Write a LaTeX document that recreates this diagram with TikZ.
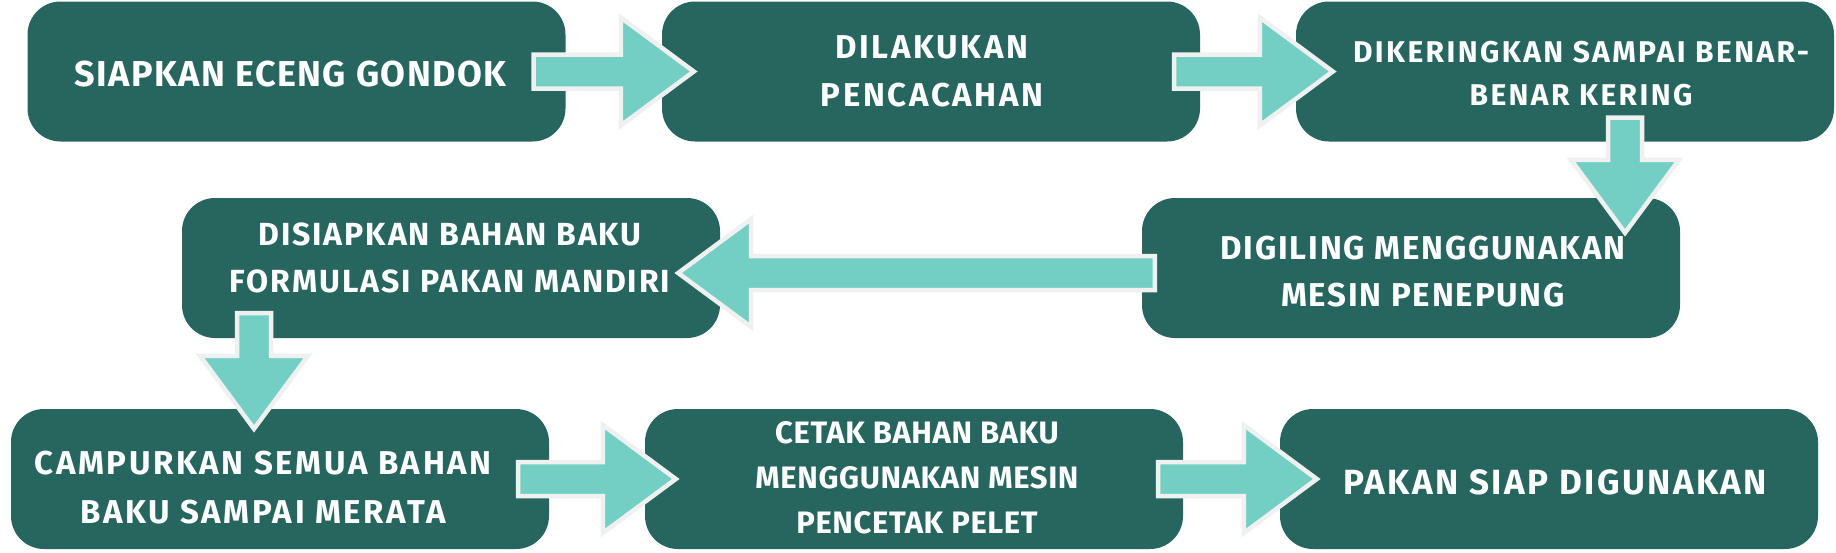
\documentclass[tikz,border=0pt]{standalone}
\usepackage{fontspec}
\setmainfont{Fira Sans}[LetterSpace=8]
\usetikzlibrary{calc}
\definecolor{boxc}{HTML}{27665F}
\definecolor{arrc}{HTML}{73CFC4}
\definecolor{arrb}{HTML}{EEF1EF}
\tikzset{
  box/.style={fill=boxc, rounded corners=33pt, minimum width=538pt, minimum height=140pt, inner sep=0pt},
  lbl/.style={text=white, align=center, inner sep=0pt},
  blk/.style={fill=arrc, draw=arrb, line width=4.5pt, line join=miter},
}
\newcommand\blockarrow[2]{%
  \coordinate (ba-c) at ($(#2)!73pt!(#1)$);
  \draw[blk] ($(#1)!17pt!90:(#2)$) -- ($(ba-c)!17pt!-90:(#1)$) -- ($(ba-c)!54pt!-90:(#1)$) -- (#2)
    -- ($(ba-c)!54pt!90:(#1)$) -- ($(ba-c)!17pt!90:(#1)$) -- ($(#1)!17pt!-90:(#2)$) -- cycle;}
\begin{document}
\begin{tikzpicture}[x=1pt, y=-1pt]
\useasboundingbox (0,0) rectangle (1836,552);
% boxes
\node[box] (b1) at (296.5,71.5) {};
\node[box] (b2) at (931,71.5) {};
\node[box] (b3) at (1565,71.5) {};
\node[box] (b4) at (451,268) {};
\node[box] (b5) at (1411,268) {};
\node[box] (b6) at (280,479) {};
\node[box] (b7) at (914,479) {};
\node[box] (b8) at (1549,479) {};
% labels
\node[lbl, font=\fontsize{36}{45}\selectfont\bfseries\addfontfeature{LetterSpace=4}] (t1) at ($(b1.center)+(-6,2.5)$) {SIAPKAN ECENG GONDOK};
\node[lbl, font=\fontsize{33}{48}\selectfont\bfseries] (t2) at ($(b2.center)+(1,0)$) {DILAKUKAN\\PENCACAHAN};
\node[lbl, font=\fontsize{30}{43}\selectfont\bfseries] (t3) at ($(b3.center)+(16,2)$) {DIKERINGKAN SAMPAI BENAR-\\BENAR KERING};
\node[lbl, font=\fontsize{32}{47}\selectfont\bfseries\addfontfeature{LetterSpace=6}] (t4) at ($(b4.center)+(-1,-10.5)$) {DISIAPKAN BAHAN BAKU\\FORMULASI PAKAN MANDIRI};
\node[lbl, font=\fontsize{33}{47}\selectfont\bfseries\addfontfeature{LetterSpace=5.5}] (t5) at ($(b5.center)+(12,3.5)$) {DIGILING MENGGUNAKAN\\MESIN PENEPUNG};
\node[lbl, font=\fontsize{33}{49}\selectfont\bfseries] (t6) at ($(b6.center)+(-17,8.5)$) {CAMPURKAN SEMUA BAHAN\\BAKU SAMPAI MERATA};
\node[lbl, font=\fontsize{31}{45}\selectfont\bfseries\addfontfeature{LetterSpace=2}] (t7) at ($(b7.center)+(3,-1)$) {CETAK BAHAN BAKU\\MENGGUNAKAN MESIN\\PENCETAK PELET};
\node[lbl, font=\fontsize{35}{45}\selectfont\bfseries\addfontfeature{LetterSpace=7}] (t8) at ($(b8.center)+(6,3)$) {PAKAN SIAP DIGUNAKAN};
% arrow end points
\coordinate (a1s) at ($(b1.east)+(-32,0)$);
\coordinate (a1e) at ($(b2.west)+(32,0)$);
\coordinate (a2s) at ($(b2.east)+(-26,0)$);
\coordinate (a2e) at ($(b3.west)+(37,0)$);
\coordinate (a3s) at ($(b3.south)+(60,-24)$);
\coordinate (a3e) at ($(a3s |- b5.north)+(0,35)$);
\coordinate (a4s) at ($(b5.west)+(13,5)$);
\coordinate (a4e) at ($(b4.east |- a4s)+(-42,0)$);
\coordinate (a5s) at ($(b4.south)+(-197,-25)$);
\coordinate (a5e) at ($(a5s |- b6.north)+(0,20)$);
\coordinate (a6s) at ($(b6.east)+(-31,0)$);
\coordinate (a6e) at ($(b7.west)+(31,0)$);
\coordinate (a7s) at ($(b7.east)+(-25,0)$);
\coordinate (a7e) at ($(b8.west)+(37,0)$);
% arrows
\blockarrow{a1s}{a1e}
\blockarrow{a2s}{a2e}
\blockarrow{a3s}{a3e}
\blockarrow{a4s}{a4e}
\blockarrow{a5s}{a5e}
\blockarrow{a6s}{a6e}
\blockarrow{a7s}{a7e}
\end{tikzpicture}
\end{document}
